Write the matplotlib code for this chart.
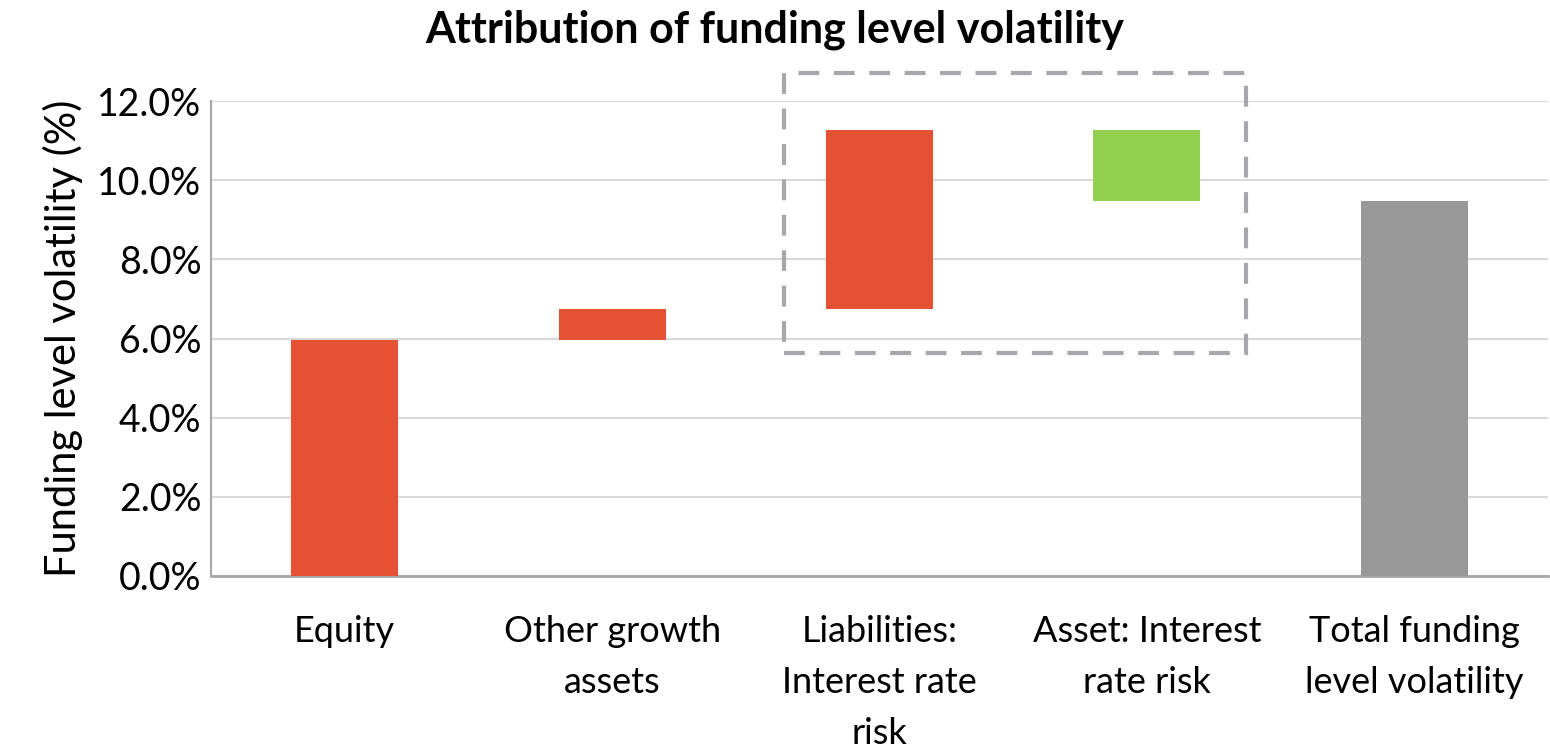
import matplotlib
matplotlib.use("Agg")
import matplotlib.pyplot as plt
from matplotlib.patches import Rectangle
from matplotlib.ticker import FuncFormatter

categories = ["Equity", "Other growth\nassets", "Liabilities:\nInterest rate\nrisk",
              "Asset: Interest\nrate risk", "Total funding\nlevel volatility"]
bar_bottoms = [0.0, 5.95, 6.75, 9.47, 0.0]
bar_tops = [5.95, 6.75, 11.27, 11.27, 9.47]
colors = ["#E45133", "#E45133", "#E45133", "#92D050", "#999999"]
y_ticks = [0, 2, 4, 6, 8, 10, 12]

plt.rcParams['font.family'] = ['Lato', 'DejaVu Sans']

fig = plt.figure(figsize=(15.5, 7.47), dpi=100)
ax = fig.add_axes([211/1550, 1-576/747, (1548-211)/1550, (576-101)/747])

x = list(range(len(categories)))
heights = [t - b for t, b in zip(bar_tops, bar_bottoms)]
ax.bar(x, heights, bottom=bar_bottoms, color=colors, width=0.4, zorder=3)

ax.set_xlim(-0.5, len(categories) - 0.5)
ax.set_ylim(0, 12)
ax.set_yticks(y_ticks)
ax.yaxis.set_major_formatter(FuncFormatter(lambda v, p: f"{v:.1f}%"))
ax.set_xticks(x)
ax.set_xticklabels(categories, fontsize=26, linespacing=1.66, va='top')
ax.tick_params(axis='y', labelsize=27, length=0, pad=7)
ax.tick_params(axis='x', length=0, pad=28)
ax.grid(axis='y', color='#D9D9D9', linewidth=1.5, zorder=0)
for s in ['top', 'right']:
    ax.spines[s].set_visible(False)
ax.spines['left'].set_color('#A6A6A6')
ax.spines['left'].set_linewidth(1.5)
ax.spines['bottom'].set_color('#A6A6A6')
ax.spines['bottom'].set_linewidth(2)

ax.set_ylabel("Funding level volatility (%)", fontsize=30, labelpad=10)
fig.text(0.5, 1 - 30/747, "Attribution of funding level volatility", fontsize=31,
         fontweight='bold', ha='center', va='center')

# dashed highlight box around interest-rate bars
box = Rectangle((1.643, 5.63), 3.37 - 1.643, 12.71 - 5.63, fill=False,
                edgecolor='#A5A7AA', linewidth=3, linestyle=(0, (5, 3.5)),
                clip_on=False, zorder=4)
ax.add_patch(box)

fig.savefig("out.png", dpi=100)
